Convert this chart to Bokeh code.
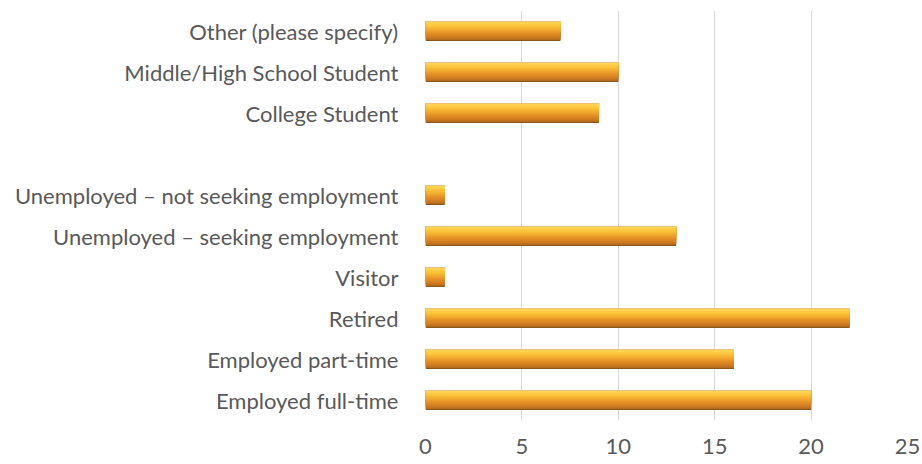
from bokeh.plotting import figure
from bokeh.models import FactorRange, ColumnDataSource, FixedTicker
from bokeh.transform import dodge
from bokeh.embed import file_html
from bokeh.resources import INLINE

categories = [
    "Employed full-time",
    "Employed part-time",
    "Retired",
    "Visitor",
    "Unemployed \u2013 seeking employment",
    "Unemployed \u2013 not seeking employment",
    " ",
    "College Student",
    "Middle/High School Student",
    "Other (please specify)",
]
values = [20, 16, 22, 1, 13, 1, 0, 9, 10, 7]
x_ticks = [0, 5, 10, 15, 20, 25]

FONT = "Lato"
LABEL_COLOR = "#595959"

p = figure(
    width=922, height=464,
    y_range=FactorRange(factors=categories, range_padding=0),
    x_range=(0, 25),
    output_backend="svg", toolbar_location=None,
    min_border_left=425, min_border_right=15,
    min_border_top=10, min_border_bottom=44,
)
p.outline_line_color = None
p.background_fill_color = "white"

src = ColumnDataSource(dict(cat=categories, val=values))

# gradient rows (top to bottom) imitating the bevelled bars
grad = ["#E8C27A", "#FFD457", "#FFD04C", "#FDCA40", "#FBC43A", "#F8BC36",
        "#F5B431", "#F2AC2E", "#EFA42B", "#EC9D29", "#E89527", "#E38E25",
        "#DD8723", "#D78122", "#CF7B20", "#C4741F", "#B56B1D", "#8F561A"]
total = 0.49
n = len(grad)
step = total / n
top = total / 2
# nested bars drawn from the bottom row up: each covers [bottom_i, top]
for i in range(n - 1, -1, -1):
    bottom = top - step * (i + 1)
    off = (top + bottom) / 2
    p.hbar(y=dodge("cat", off, range=p.y_range), right="val", left=0,
           height=top - bottom, source=src, fill_color=grad[i], line_color=None)

p.xaxis.ticker = FixedTicker(ticks=x_ticks)
p.xaxis.axis_line_color = None
p.xaxis.major_tick_line_color = None
p.xaxis.minor_tick_line_color = None
p.xaxis.major_label_standoff = 12
p.yaxis.axis_line_color = None
p.yaxis.major_tick_line_color = None
p.yaxis.minor_tick_line_color = None
p.yaxis.major_label_standoff = 21
for ax in (p.xaxis[0], p.yaxis[0]):
    ax.major_label_text_font = FONT
    ax.major_label_text_font_size = "22px"
    ax.major_label_text_color = LABEL_COLOR

p.ygrid.grid_line_color = None
p.xgrid.grid_line_color = "#D9D9D9"
p.xgrid.grid_line_width = 1

open("out.html", "w").write(file_html(p, INLINE))
